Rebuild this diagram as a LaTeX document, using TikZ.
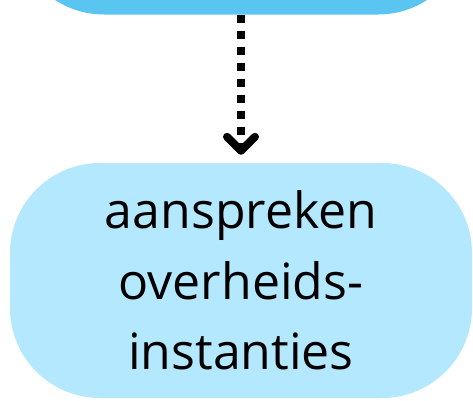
\documentclass[tikz,border=0pt]{standalone}
\usepackage{fontspec}
\setmainfont{Open Sans}
\usetikzlibrary{arrows.meta}
\definecolor{stepBlue}{RGB}{91,197,242}
\definecolor{stepBlueLight}{RGB}{179,232,254}

\begin{document}
\begin{tikzpicture}[x=1pt,y=-1pt,
  stepbox/.style={rounded corners=90pt, minimum width=462pt, minimum height=235pt,
    inner sep=0pt, align=center, font=\fontsize{50}{70.5}\selectfont},
  flow/.style={line width=8pt, dash pattern=on 8pt off 8pt,
    -{Straight Barb[length=14pt,width=28pt,round]}, shorten >=8pt}]
\useasboundingbox (0,0) rectangle (473,400);
\node[stepbox, fill=stepBlue, minimum width=454pt] (bron) at (241,-103) {};
\node[stepbox, fill=stepBlueLight] (aanspreken) at (241,280.5) {aanspreken\\overheids-\\instanties};
\draw[flow] (bron.south) -- (aanspreken.north);
\end{tikzpicture}
\end{document}
